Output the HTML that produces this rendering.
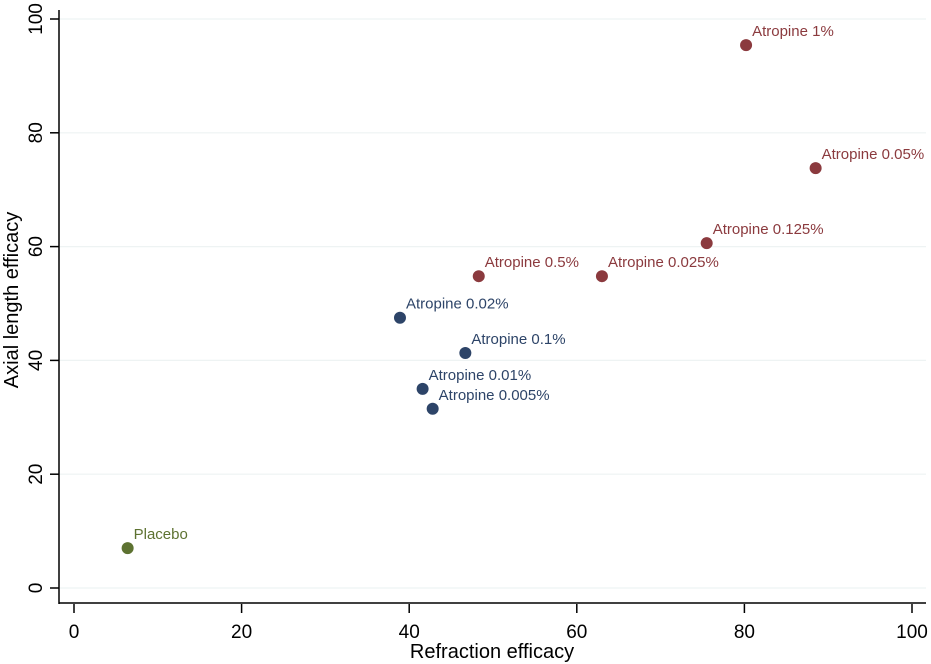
<!DOCTYPE html>
<html><head><meta charset="utf-8"><style>
body{margin:0;background:#fff}
svg{display:block;font-family:"Liberation Sans",Arial,sans-serif}
</style></head><body>
<svg id="chart" width="931" height="664"></svg>
<script>
const labels=["Atropine 1%","Atropine 0.05%","Atropine 0.125%","Atropine 0.025%","Atropine 0.5%","Atropine 0.02%","Atropine 0.1%","Atropine 0.01%","Atropine 0.005%","Placebo"];
const refraction=[80.2,88.5,75.5,63.0,48.3,38.9,46.7,41.6,42.8,6.4];
const axial=[95.4,73.8,60.6,54.8,54.8,47.5,41.3,35.0,31.5,7.0];
const groups=["high","high","high","high","high","mid","mid","mid","mid","placebo"];
const xTicks=[0,20,40,60,80,100];
const yTicks=[0,20,40,60,80,100];
const colors={high:"#8b3a3e",mid:"#2d4468",placebo:"#5d7231"};
const NS="http://www.w3.org/2000/svg";
const svg=document.getElementById('chart');
const X=v=>74+v*8.38, Y=v=>588-v*5.69;
function el(t,a,p){const e=document.createElementNS(NS,t);for(const k in a)e.setAttribute(k,a[k]);(p||svg).appendChild(e);return e;}
yTicks.forEach(v=>{
const g=el('line',{x1:60,x2:926,y1:Y(v),y2:Y(v),stroke:'#eef3f3','stroke-width':1.2});


const t=el('line',{x1:50,x2:59,y1:Y(v),y2:Y(v),stroke:'#000','stroke-width':1.5});


const l=el('text',{x:0,y:0,'font-size':19,'text-anchor':'middle',transform:`translate(42,${Y(v)}) rotate(-90)`});
l.textContent=v;


});
xTicks.forEach(v=>{
const t=el('line',{x1:X(v),x2:X(v),y1:604,y2:613,stroke:'#000','stroke-width':1.5});


const l=el('text',{x:X(v),y:638,'font-size':19,'text-anchor':'middle'});
l.textContent=v;


});
const ya=el('line',{x1:59,x2:59,y1:10,y2:604,stroke:'#000','stroke-width':1.5});


const xa=el('line',{x1:59,x2:926,y1:603,y2:603,stroke:'#000','stroke-width':1.5});


const xt=el('text',{x:492,y:658,'font-size':20,'text-anchor':'middle'});
xt.textContent='Refraction efficacy';


const yt=el('text',{x:0,y:0,'font-size':20,'text-anchor':'middle',transform:'translate(18,300) rotate(-90)'});
yt.textContent='Axial length efficacy';


labels.forEach((n,i)=>{
const c=colors[groups[i]];
const p=el('circle',{cx:X(refraction[i]),cy:Y(axial[i]),r:6,fill:c});


const t=el('text',{x:X(refraction[i])+6,y:Y(axial[i])-9,'font-size':15,fill:c});
t.textContent=n;


});
</script>
</body></html>
